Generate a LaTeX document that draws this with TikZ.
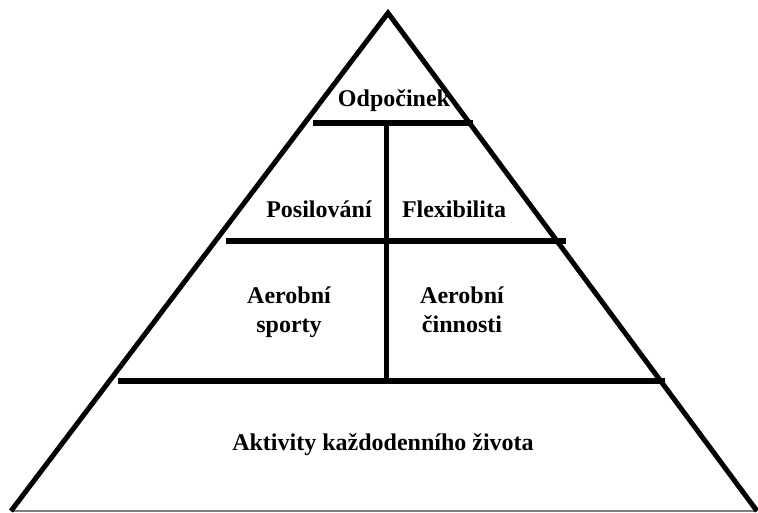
\documentclass[tikz,border=0pt]{standalone}
\usepackage{fontspec}
\setmainfont{Liberation Serif}
\begin{document}
\begin{tikzpicture}[x=1pt,y=-1pt,
  side/.style={line width=5pt,line join=miter},
  bar/.style={line width=6pt},
  lbl/.style={font=\bfseries\fontsize{24}{29}\selectfont,anchor=base,inner sep=0pt,align=center}]
\useasboundingbox (0,0) rectangle (758,513);
\coordinate (apex) at (388,13);
\coordinate (bl) at (11,511);
\coordinate (br) at (757,511);
\draw[gray,line width=1.5pt] (bl) -- (br);
\draw[side] (bl) -- (apex) -- (br);
\coordinate (t1) at (313,123); \coordinate (t2) at (473,123);
\coordinate (m1) at (226,241); \coordinate (m2) at (566,241);
\coordinate (b1) at (118,381); \coordinate (b2) at (665,381);
\coordinate (v1) at (386,123); \coordinate (v2) at (386,381);
\draw[bar] (t1) -- (t2);
\draw[bar] (m1) -- (m2);
\draw[bar] (b1) -- (b2);
\draw[line width=5pt] (v1) -- (v2);
\node[lbl] (odp) at (394,107) {Odpočinek};
\node[lbl] (pos) at (319,218) {Posilování};
\node[lbl] (flx) at (454,218) {Flexibilita};
\node[lbl] (aes) at (289,332) {Aerobní\\sporty};
\node[lbl] (aec) at (462,332) {Aerobní\\činnosti};
\node[lbl] (akt) at (383,450) {Aktivity každodenního života};
\end{tikzpicture}
\end{document}
